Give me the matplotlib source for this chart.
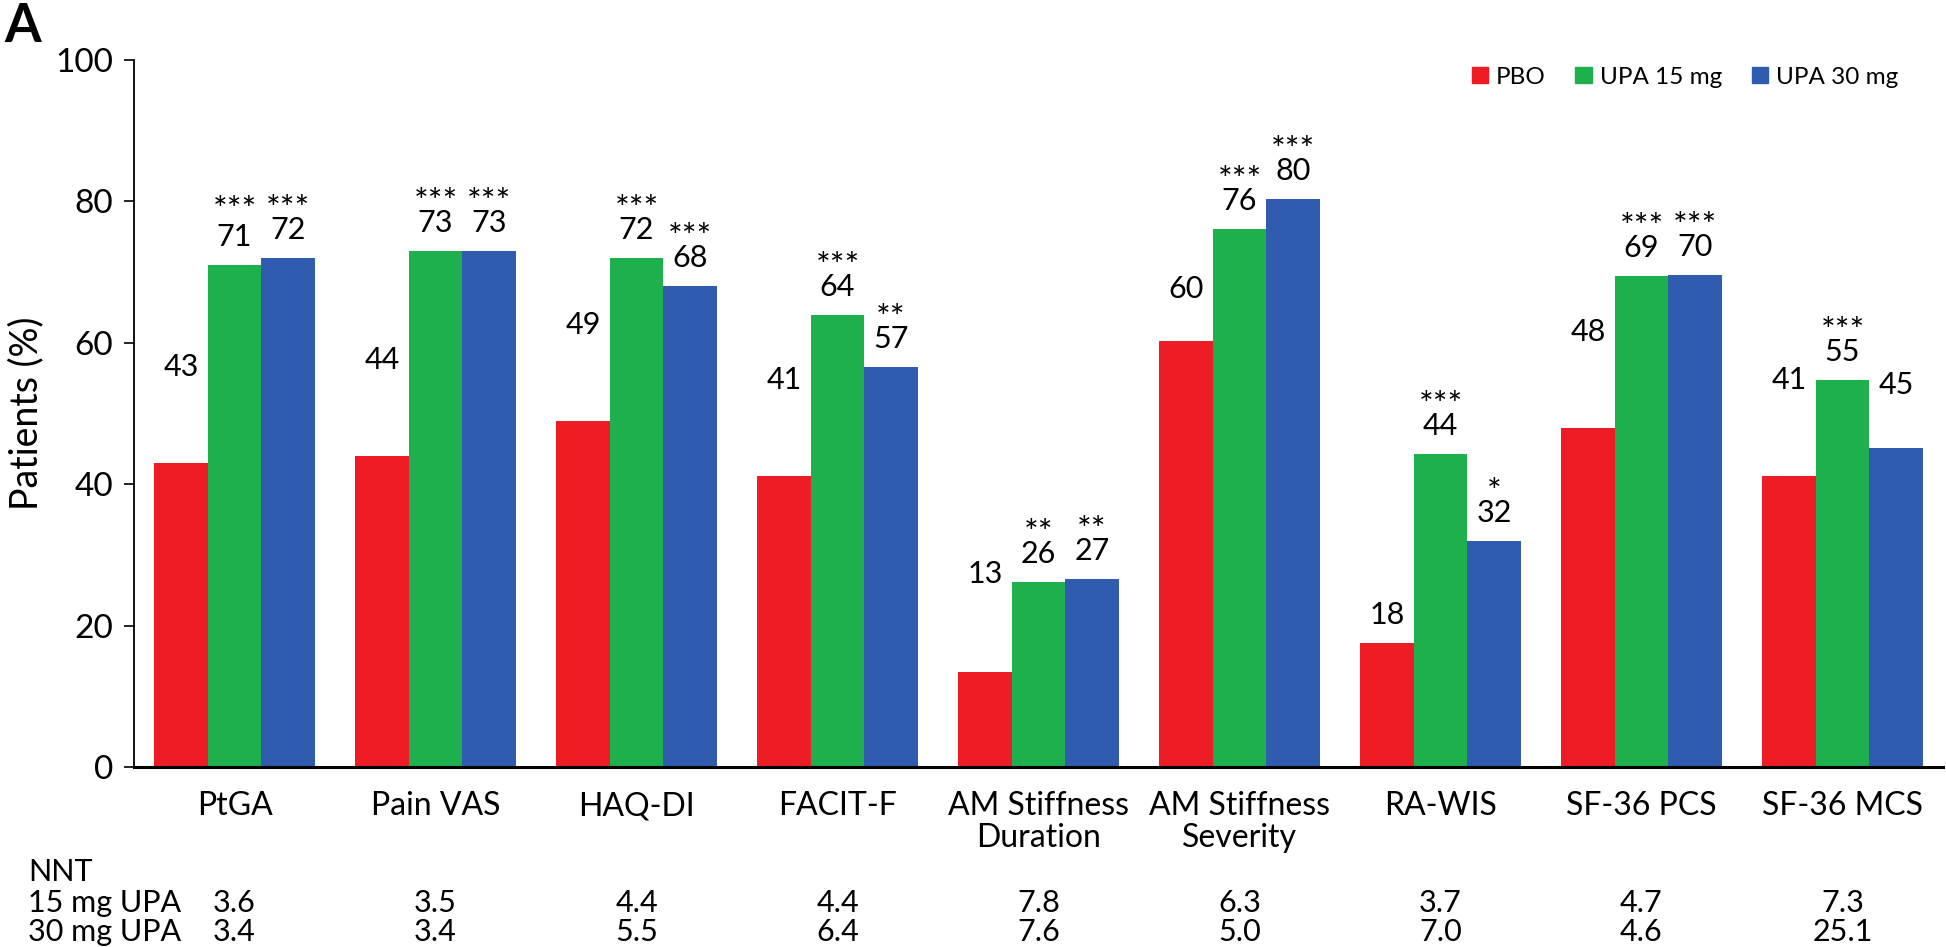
import matplotlib
matplotlib.use("Agg")
import matplotlib.pyplot as plt
import matplotlib.transforms as mtransforms
from matplotlib.patches import Patch
import numpy as np

plt.rcParams['font.family'] = ['Lato', 'DejaVu Sans']

categories = ['PtGA', 'Pain VAS', 'HAQ-DI', 'FACIT-F', 'AM Stiffness\nDuration',
              'AM Stiffness\nSeverity', 'RA-WIS', 'SF-36 PCS', 'SF-36 MCS']
series_names = ['PBO', 'UPA 15 mg', 'UPA 30 mg']
pbo = [43, 44, 49, 41.2, 13.4, 60.2, 17.6, 48, 41.2]
upa15 = [71, 73, 72, 64, 26.2, 76.1, 44.3, 69.4, 54.7]
upa30 = [72, 73, 68, 56.6, 26.6, 80.4, 32, 69.6, 45.1]
stars15 = ['***', '***', '***', '***', '**', '***', '***', '***', '***']
stars30 = ['***', '***', '***', '**', '**', '***', '*', '***', '']
nnt15 = ['3.6', '3.5', '4.4', '4.4', '7.8', '6.3', '3.7', '4.7', '7.3']
nnt30 = ['3.4', '3.4', '5.5', '6.4', '7.6', '5.0', '7.0', '4.6', '25.1']

# extra lift (pixels) of value labels / stars that sit higher in the original figure
label_lift = [[68, 68, 68, 68, 70, 24, 0, 68, 68],
              [0] * 9,
              [0, 0, 0, 0, 0, 0, 0, 0, 35]]
star_lift = [[0] * 9,
             [6, 0, 0, 0, 0, 0, 0, 0, 0],
             [0] * 9]

colors = ['#EE1C24', '#1DB04D', '#305CB0']

fig = plt.figure(figsize=(19.46, 9.47), dpi=100)
ax = fig.add_axes([134/1946, 1 - 767/947, 1809/1946, 707/947])

x = np.arange(len(categories))
w = 0.266
data = [pbo, upa15, upa30]
stars = [[''] * len(categories), stars15, stars30]
px = 0.72  # points per pixel

for i, vals in enumerate(data):
    xs = x + (i - 1) * w
    ax.bar(xs, vals, width=w, color=colors[i], label=series_names[i])
    for j, (xi, v) in enumerate(zip(xs, vals)):
        lift = label_lift[i][j]
        ax.annotate(f"{v:.0f}", (xi, v), xytext=(0, (19 + lift) * px),
                    textcoords='offset points', ha='center', va='baseline', fontsize=22)
        if stars[i][j]:
            ax.annotate(stars[i][j], (xi, v), xytext=(0, (38 + lift + star_lift[i][j]) * px),
                        textcoords='offset points', ha='center', va='baseline', fontsize=25)

ax.set_xlim(-0.5, 8.5)
ax.set_ylim(0, 100)
ax.set_yticks([0, 20, 40, 60, 80, 100])
ax.tick_params(axis='y', labelsize=24, length=10 * px, width=1.2, pad=8)
ax.set_xticks(x)
ax.set_xticklabels(categories, fontsize=23, linespacing=1.1)
ax.tick_params(axis='x', length=0, pad=24 * px)
for side in ['top', 'right']:
    ax.spines[side].set_visible(False)
ax.spines['left'].set_linewidth(1.3)
ax.spines['bottom'].set_linewidth(2.2)
ax.set_ylabel('Patients (%)', fontsize=27, labelpad=8)

handles = [Patch(color=c) for c in colors]
fig.legend(handles, series_names, loc='center right', bbox_to_anchor=(1898/1946, 1 - 77/947),
           ncol=3, frameon=False, fontsize=17.5, handlelength=0.66, handleheight=0.66,
           handletextpad=0.33, columnspacing=1.23, borderpad=0, borderaxespad=0)

# NNT table below the axis
trans = mtransforms.blended_transform_factory(ax.transData, fig.transFigure)
fig.text(28/1946, 1 - 881/947, 'NNT', fontsize=22, va='baseline')
fig.text(28/1946, 1 - 912/947, '15 mg UPA', fontsize=22, va='baseline')
fig.text(28/1946, 1 - 941/947, '30 mg UPA', fontsize=22, va='baseline')
for xi, a, b in zip(x, nnt15, nnt30):
    ax.text(xi, 1 - 912/947, a, transform=trans, ha='center', va='baseline', fontsize=22)
    ax.text(xi, 1 - 941/947, b, transform=trans, ha='center', va='baseline', fontsize=22)

fig.text(4/1946, 1 - 26/947, 'A', fontsize=38, fontweight='bold', va='center', ha='left')

fig.savefig('out.png', dpi=100)
